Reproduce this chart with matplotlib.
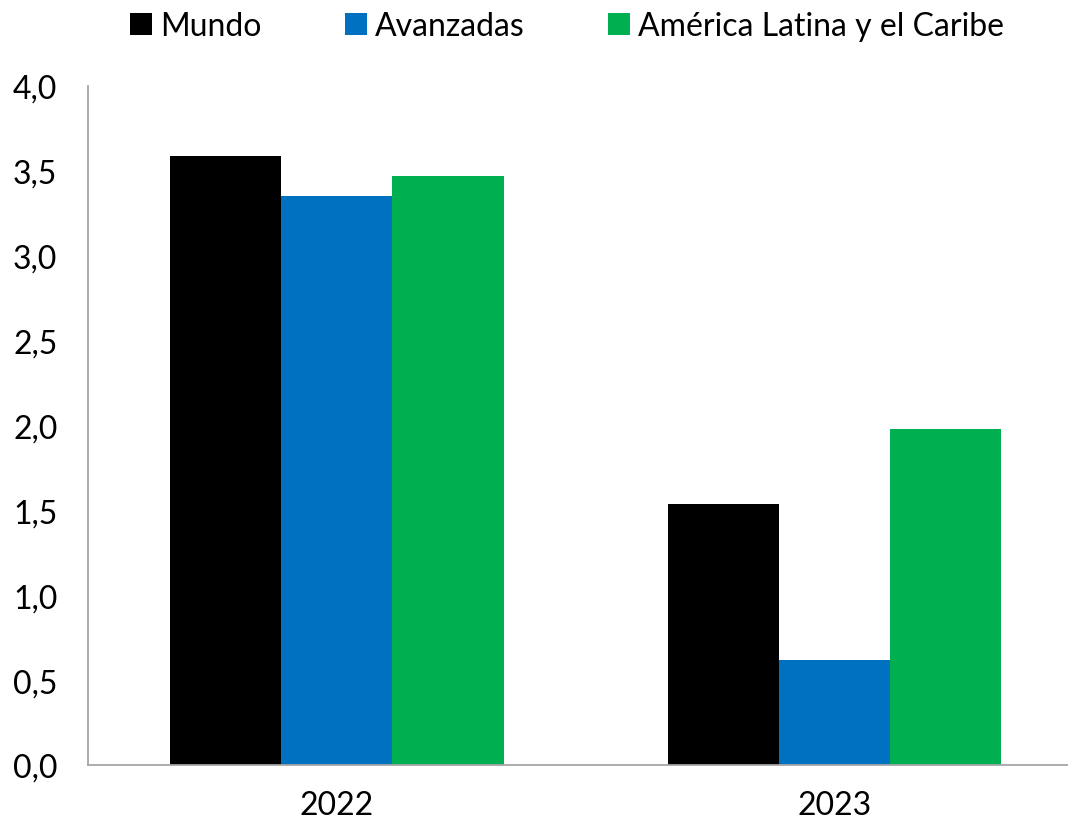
import matplotlib
matplotlib.use("Agg")
import matplotlib.pyplot as plt
import numpy as np
from matplotlib.patches import Patch

categories = ["2022", "2023"]
series_names = ["Mundo", "Avanzadas", "América Latina y el Caribe"]
mundo = [3.59, 1.54]
avanzadas = [3.35, 0.62]
alc = [3.47, 1.98]
colors = ["#000000", "#0070C0", "#00B050"]
yticks = [0.0, 0.5, 1.0, 1.5, 2.0, 2.5, 3.0, 3.5, 4.0]

plt.rcParams['font.family'] = ['Lato', 'DejaVu Sans']

fig = plt.figure(figsize=(10.68, 8.2), dpi=100)
ax = fig.add_axes([0.0824, 0.0659, 0.932, 0.828])

x = np.arange(len(categories))
w = 0.2235
for i, (vals, c) in enumerate(zip([mundo, avanzadas, alc], colors)):
    ax.bar(x + (i - 1) * w, vals, width=w, color=c, edgecolor="none", zorder=2)

ax.set_xlim(-0.5, 1.5)
ax.set_ylim(0, 4.0)
ax.set_yticks(yticks)
ax.set_yticklabels([f"{v:.1f}".replace(".", ",") for v in yticks])
ax.set_xticks(x)
ax.set_xticklabels(categories)
ax.tick_params(axis="both", length=0, labelsize=23, colors="#000000")
ax.tick_params(axis="y", pad=22)
ax.tick_params(axis="x", pad=18)
for s in ["top", "right"]:
    ax.spines[s].set_visible(False)
for s in ["left", "bottom"]:
    ax.spines[s].set_color("#A6A6A6")
    ax.spines[s].set_linewidth(1.3)

handles = [Patch(facecolor=c, edgecolor="none") for c in colors]
fig.legend(handles, series_names, loc="upper center", bbox_to_anchor=(0.531, 1.02),
           ncol=3, frameon=False, fontsize=23, handlelength=0.7, handleheight=0.7,
           handletextpad=0.25, columnspacing=2.6)

fig.savefig("out.png", dpi=100)
